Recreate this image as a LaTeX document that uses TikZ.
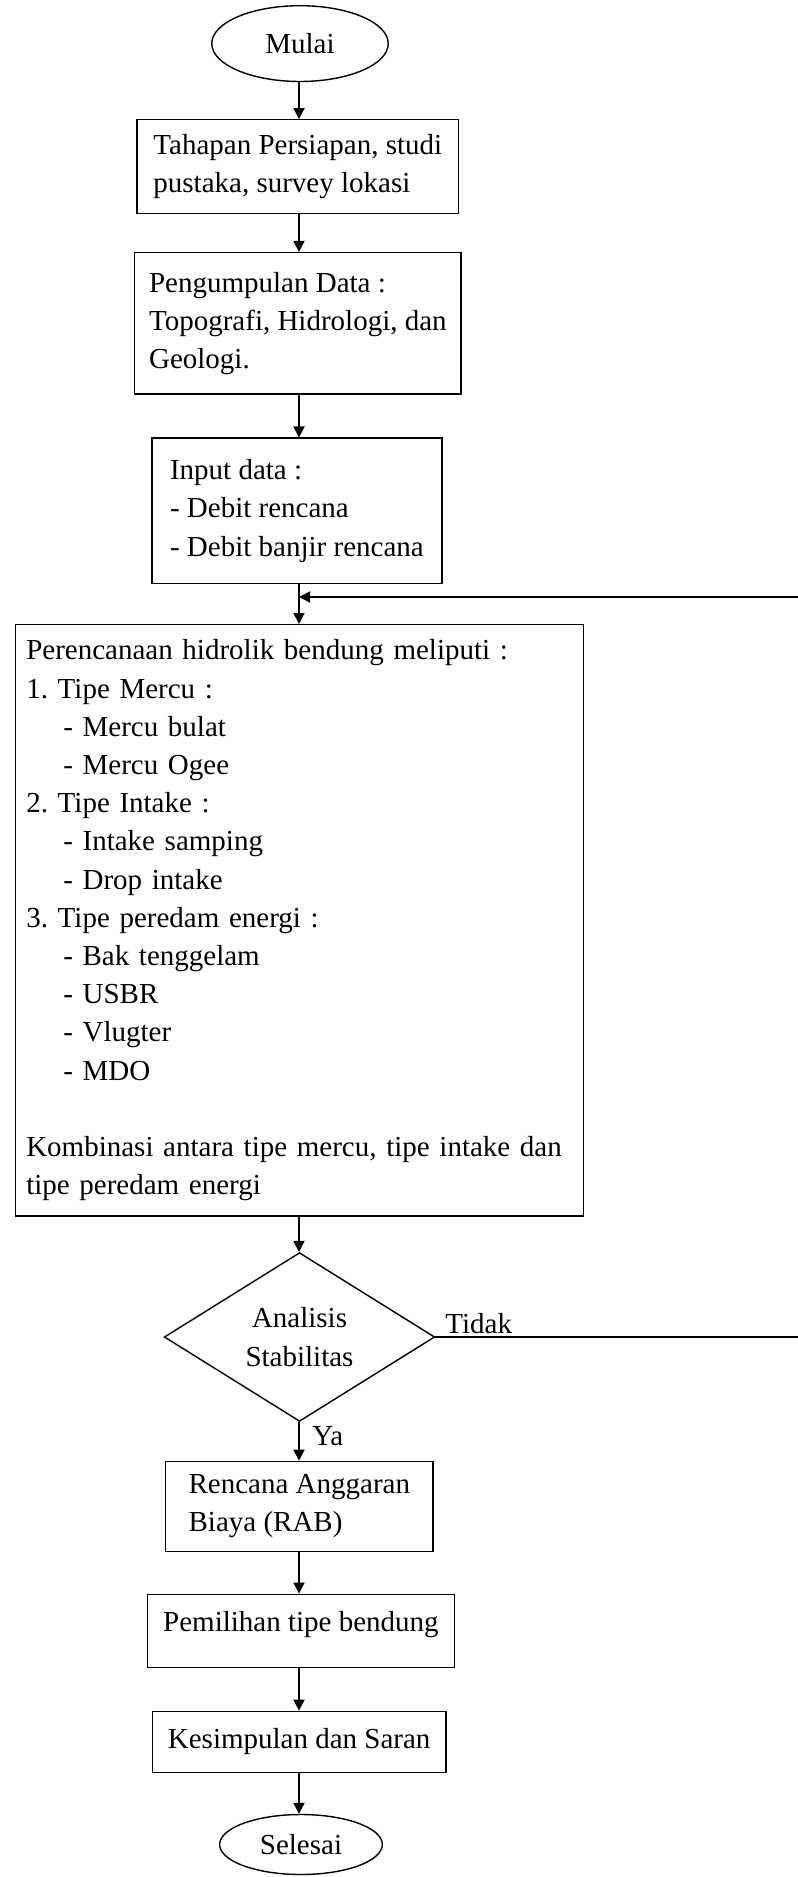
\documentclass[tikz,border=0pt]{standalone}
\usepackage{fontspec}
\setmainfont{Liberation Serif}
\usetikzlibrary{shapes.geometric,arrows.meta}
\frenchspacing
\begin{document}
\begin{tikzpicture}[x=0.5pt,y=-0.5pt,
  font=\fontsize{14.5}{19.1}\selectfont,
  every node/.style={inner sep=0pt},
  box/.style={draw, line width=0.7pt, rectangle, align=left},
  term/.style={draw, line width=0.7pt, ellipse},
  dec/.style={draw, line width=0.7pt, diamond, aspect=1.6, align=center},
  arr/.style={line width=0.9pt, -{Triangle[length=5.5pt,width=5.5pt]}}]
\useasboundingbox (0,0) rectangle (797,1877);
\coordinate (spine) at (299,0);
\coordinate (join) at (299,597);
\coordinate (far) at (805,0);

\node[term, minimum width=88.25pt, minimum height=37.9pt] (mulai) at (300,43.6) {Mulai};
\node[box, minimum width=160.8pt, minimum height=46.85pt] (b1) at (297.8,166.65)
  {Tahapan Persiapan, studi\\pustaka, survey lokasi};
\node[box, minimum width=163.15pt, minimum height=70.8pt] (b2) at (297.9,323.4)
  {Pengumpulan Data :\\Topografi, Hidrologi, dan\\Geologi.};
\node[box, minimum width=144.9pt, minimum height=72.7pt] (b3) at (296.9,510.9)
  {Input data :\\- Debit rencana\\- Debit banjir rencana};
\node[box, inner xsep=5.5pt, text width=273.15pt, minimum height=295.65pt] (b4) at (299.45,920.35)
  {Perencanaan hidrolik bendung meliputi :\\
   1. Tipe Mercu :\\
   \hspace*{18.5pt}- Mercu bulat\\
   \hspace*{18.5pt}- Mercu Ogee\\
   2. Tipe Intake :\\
   \hspace*{18.5pt}- Intake samping\\
   \hspace*{18.5pt}- Drop intake\\
   3. Tipe peredam energi :\\
   \hspace*{18.5pt}- Bak tenggelam\\
   \hspace*{18.5pt}- USBR\\
   \hspace*{18.5pt}- Vlugter\\
   \hspace*{18.5pt}- MDO\\
   \mbox{}\\
   Kombinasi antara tipe mercu, tipe intake dan\\
   tipe peredam energi};
\node[dec, minimum width=135.25pt, minimum height=84.4pt] (d) at (299.5,1337)
  {Analisis\\Stabilitas};
\node[box, minimum width=133.65pt, minimum height=44.9pt] (b5) at (299.35,1506.3)
  {Rencana Anggaran\\Biaya (RAB)};
\node[box, minimum width=153.55pt, minimum height=36.75pt] (b6) at (300.95,1631)
  {\raisebox{10pt}{Pemilihan tipe bendung}};
\node[box, minimum width=146.7pt, minimum height=30.45pt] (b7) at (299.2,1741.75)
  {Kesimpulan dan Saran};
\node[term, minimum width=81.35pt, minimum height=30pt] (selesai) at (301,1844.5) {Selesai};

\node[anchor=base west] (tidak) at (445,1333) {Tidak};
\node[anchor=base west] (ya) at (312,1445) {Ya};

\draw[arr] (mulai.south -| spine) -- (b1.north -| spine);
\draw[arr] (b1.south -| spine) -- (b2.north -| spine);
\draw[arr] (b2.south -| spine) -- (b3.north -| spine);
\draw[arr] (b3.south -| spine) -- (b4.north -| spine);
\draw[arr] (b4.south -| spine) -- (d.north -| spine);
\draw[arr] (d.south -| spine) -- (b5.north -| spine);
\draw[arr] (b5.south -| spine) -- (b6.north -| spine);
\draw[arr] (b6.south -| spine) -- (b7.north -| spine);
\draw[arr] (b7.south -| spine) -- (selesai.north -| spine);
\draw[arr] (d.east) -- (d.east -| far) |- (join);
\end{tikzpicture}
\end{document}
